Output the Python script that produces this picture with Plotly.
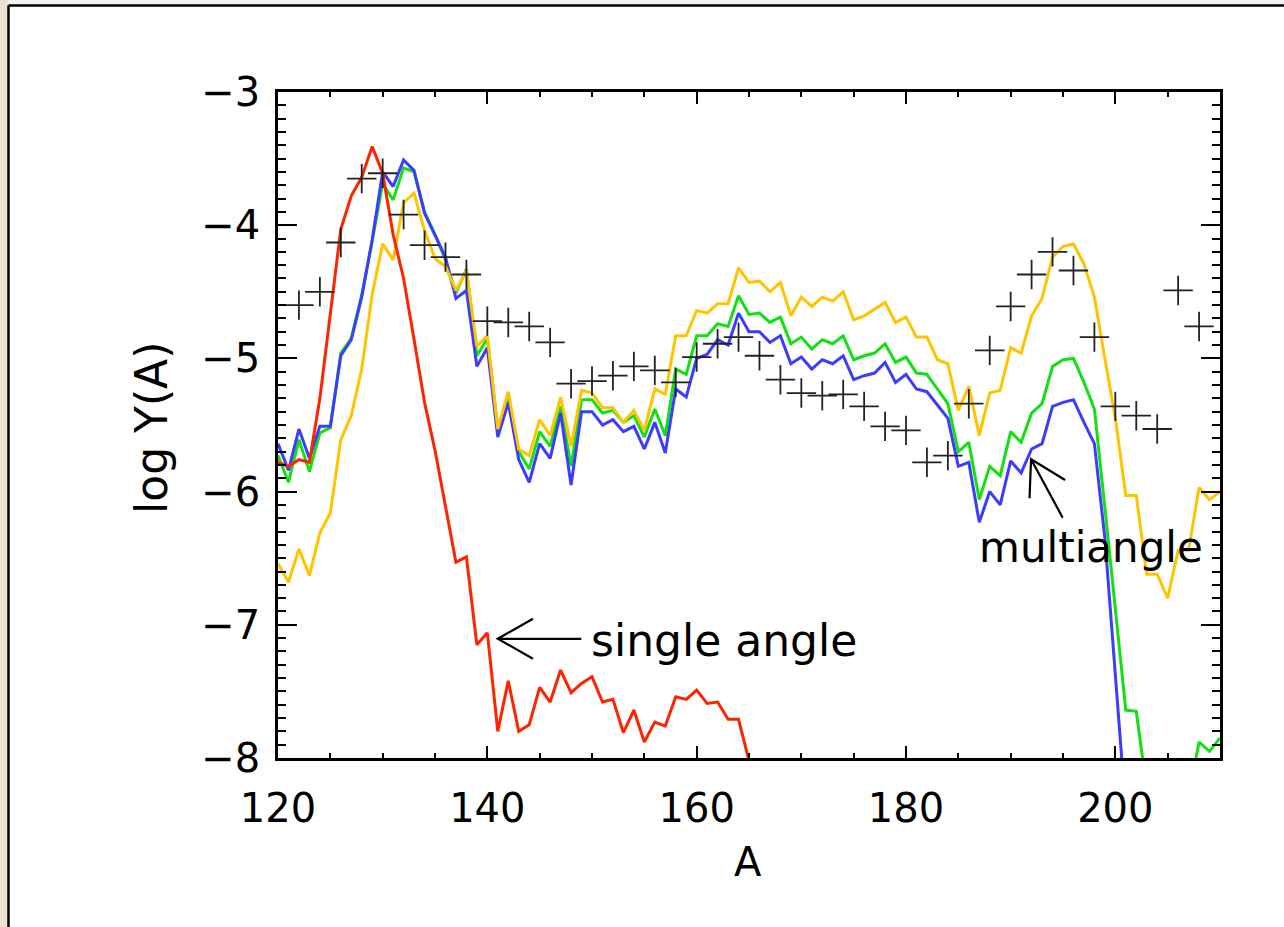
import plotly.graph_objects as go

# ---------------- data ----------------
A_red = list(range(120, 167))
red = [-5.78, -5.81, -5.76, -5.78, -5.30, -4.68, -4.03, -3.78, -3.64, -3.41,
       -3.61, -4.07, -4.40, -4.86, -5.33, -5.69, -6.11, -6.53, -6.49, -7.15,
       -7.06, -7.80, -7.42, -7.80, -7.75, -7.47, -7.58, -7.34, -7.51, -7.44,
       -7.39, -7.58, -7.56, -7.81, -7.64, -7.88, -7.73, -7.76, -7.54, -7.56,
       -7.49, -7.59, -7.58, -7.71, -7.71, -8.02, -8.50]

A_blue = list(range(120, 202))
blue = [-5.64, -5.84, -5.53, -5.75, -5.51, -5.51, -4.98, -4.86, -4.54, -4.11,
        -3.60, -3.71, -3.51, -3.59, -3.91, -4.08, -4.24, -4.55, -4.49, -5.06,
        -4.92, -5.59, -5.33, -5.76, -5.93, -5.64, -5.75, -5.41, -5.95, -5.40,
        -5.40, -5.50, -5.46, -5.55, -5.51, -5.68, -5.48, -5.71, -5.23, -5.29,
        -5.00, -4.97, -4.86, -4.90, -4.66, -4.80, -4.80, -4.88, -4.83, -5.04,
        -4.99, -5.08, -5.01, -5.04, -4.98, -5.16, -5.13, -5.11, -5.03, -5.18,
        -5.12, -5.23, -5.25, -5.35, -5.45, -5.81, -5.78, -6.23, -6.00, -6.10,
        -5.77, -5.86, -5.68, -5.64, -5.36, -5.33, -5.31, -5.48, -5.64, -6.35,
        -7.32, -8.40]

A_green = list(range(120, 211))
green = [-5.73, -5.93, -5.61, -5.85, -5.56, -5.52, -4.96, -4.85, -4.52, -4.12,
         -3.69, -3.81, -3.57, -3.60, -3.90, -4.07, -4.26, -4.51, -4.33, -4.98,
         -4.85, -5.53, -5.28, -5.70, -5.83, -5.55, -5.66, -5.36, -5.81, -5.31,
         -5.31, -5.41, -5.39, -5.48, -5.43, -5.59, -5.38, -5.58, -5.08, -5.12,
         -4.83, -4.83, -4.74, -4.76, -4.53, -4.67, -4.66, -4.73, -4.69, -4.89,
         -4.84, -4.93, -4.86, -4.89, -4.83, -5.01, -4.98, -4.96, -4.89, -5.03,
         -4.99, -5.11, -5.12, -5.23, -5.34, -5.70, -5.63, -6.06, -5.81, -5.88,
         -5.55, -5.63, -5.41, -5.34, -5.06, -5.01, -5.00, -5.18, -5.38, -6.12,
         -6.90, -7.64, -7.65, -8.23, -8.50, -8.60, -8.50, -8.28, -7.88, -7.95,
         -7.85]

A_yellow = list(range(120, 211))
yellow = [-6.54, -6.68, -6.43, -6.63, -6.31, -6.16, -5.61, -5.43, -5.08, -4.52,
          -4.14, -4.26, -3.83, -3.76, -4.04, -4.25, -4.31, -4.49, -4.34, -4.91,
          -4.83, -5.53, -5.25, -5.68, -5.73, -5.46, -5.58, -5.29, -5.66, -5.24,
          -5.26, -5.37, -5.37, -5.48, -5.39, -5.54, -5.23, -5.27, -4.83, -4.83,
          -4.64, -4.66, -4.59, -4.59, -4.32, -4.43, -4.42, -4.50, -4.43, -4.68,
          -4.54, -4.61, -4.54, -4.57, -4.50, -4.71, -4.68, -4.63, -4.58, -4.73,
          -4.69, -4.84, -4.84, -5.01, -5.04, -5.39, -5.21, -5.58, -5.26, -5.24,
          -4.92, -4.96, -4.68, -4.55, -4.24, -4.16, -4.14, -4.29, -4.54, -5.00,
          -5.45, -6.03, -6.03, -6.62, -6.62, -6.80, -6.44, -6.44, -5.97, -6.06,
          -6.00]

A_data = list(range(122, 209, 2))
data_y = [-4.60, -4.50, -4.13, -3.65, -3.61, -3.92, -4.15, -4.24, -4.37, -4.72,
          -4.73, -4.76, -4.88, -5.19, -5.17, -5.13, -5.06, -5.09, -5.18, -4.99,
          -4.89, -4.84, -4.98, -5.16, -5.26, -5.28, -5.27, -5.36, -5.51, -5.54,
          -5.78, -5.73, -5.34, -4.94, -4.61, -4.37, -4.20, -4.34, -4.84, -5.36,
          -5.43, -5.53, -4.49, -4.76]

x_ticks = [120, 140, 160, 180, 200]
y_ticks = [-3, -4, -5, -6, -7, -8]
label_single = "single angle"
label_multi = "multiangle"

# ---------------- layout geometry ----------------
W, H = 1284, 927
L, R, T, B = 278, 64, 92, 169
pw, ph = W - L - R, H - T - B


def px(xp):
    return (xp - L) / pw


def py(yp):
    return (H - B - yp) / ph


FONT = "DejaVu Sans"

fig = go.Figure()
line_w = 3.0
for xs, ys, col in [(A_green, green, "#12e012"),
                    (A_blue, blue, "#3c3cff"),
                    (A_yellow, yellow, "#ffc400"),
                    (A_red, red, "#ff2400")]:
    fig.add_trace(go.Scatter(x=xs, y=ys, mode="lines",
                             line=dict(color=col, width=line_w),
                             hoverinfo="skip", showlegend=False))

fig.add_trace(go.Scatter(x=A_data, y=data_y, mode="markers",
                         marker=dict(symbol="cross-thin", size=21,
                                     line=dict(color="#222222", width=1.8)),
                         showlegend=False))

axis_common = dict(showline=True, linecolor="black", linewidth=2.5,
                   mirror="allticks", ticks="inside", tickcolor="black",
                   showgrid=False, zeroline=False,
                   tickfont=dict(family=FONT, size=40, color="black"))

fig.update_xaxes(range=[120, 210], tickvals=x_ticks, ticklen=12, tickwidth=2,
                 ticklabelstandoff=13,
                 minor=dict(dtick=5, ticklen=5, tickwidth=1.6,
                            tickcolor="black", ticks="inside"),
                 **axis_common)
fig.update_yaxes(range=[-8, -3], tickvals=y_ticks, ticklen=19, tickwidth=2,
                 ticklabelstandoff=7,
                 minor=dict(dtick=0.1, ticklen=8, tickwidth=1.6,
                            tickcolor="black", ticks="inside"),
                 **axis_common)

shapes = []
# page frame: left beige strip, top light strip, black border lines
shapes.append(dict(type="rect", xref="paper", yref="paper",
                   x0=px(0), x1=px(8), y0=py(H), y1=py(0),
                   fillcolor="#e8e2d0", line=dict(width=0), layer="below"))
shapes.append(dict(type="rect", xref="paper", yref="paper",
                   x0=px(8), x1=px(W), y0=py(5), y1=py(0),
                   fillcolor="#f4f2ec", line=dict(width=0), layer="below"))
shapes.append(dict(type="line", xref="paper", yref="paper",
                   x0=px(8.5), x1=px(W), y0=py(5.5), y1=py(5.5),
                   line=dict(color="black", width=2.5)))
shapes.append(dict(type="line", xref="paper", yref="paper",
                   x0=px(8.5), x1=px(8.5), y0=py(5.5), y1=py(H),
                   line=dict(color="black", width=2.5)))

# arrows (open V heads), in data coordinates
arrow_single = dict(tip=(141.0, -7.105), tail=(148.98, -7.105),
                    h1=(144.36, -6.955), h2=(144.36, -7.255))
arrow_multi = dict(tip=(191.95, -5.757), tail=(194.97, -6.196),
                   h1=(191.8, -6.05), h2=(195.2, -5.913))
for a in (arrow_single, arrow_multi):
    path = "M {0},{1} L {2},{3} M {4},{5} L {0},{1} L {6},{7}".format(
        a["tip"][0], a["tip"][1], a["tail"][0], a["tail"][1],
        a["h1"][0], a["h1"][1], a["h2"][0], a["h2"][1])
    shapes.append(dict(type="path", xref="x", yref="y", path=path,
                       line=dict(color="black", width=2.2)))

annotations = [
    dict(text=label_single, xref="paper", yref="paper", x=px(589), y=py(640),
         xanchor="left", yanchor="middle", showarrow=False,
         font=dict(family=FONT, size=44, color="black")),
    dict(text=label_multi, xref="paper", yref="paper", x=px(977), y=py(547),
         xanchor="left", yanchor="middle", showarrow=False,
         font=dict(family=FONT, size=42, color="black")),
    dict(text="A", xref="paper", yref="paper", x=px(748), y=py(862),
         xanchor="center", yanchor="middle", showarrow=False,
         font=dict(family=FONT, size=40, color="black")),
    dict(text="log Y(A)", xref="paper", yref="paper", x=px(152), y=py(428),
         xanchor="center", yanchor="middle", showarrow=False, textangle=-90,
         font=dict(family=FONT, size=44, color="black")),
]

fig.update_layout(width=W, height=H,
                  margin=dict(l=L, r=R, t=T, b=B, pad=0),
                  paper_bgcolor="white", plot_bgcolor="white",
                  shapes=shapes, annotations=annotations,
                  showlegend=False)

fig.write_html("out.html",
               config={"displayModeBar": False},
               post_script="document.body.style.margin='0px';"
                           "document.body.style.overflow='hidden';")
